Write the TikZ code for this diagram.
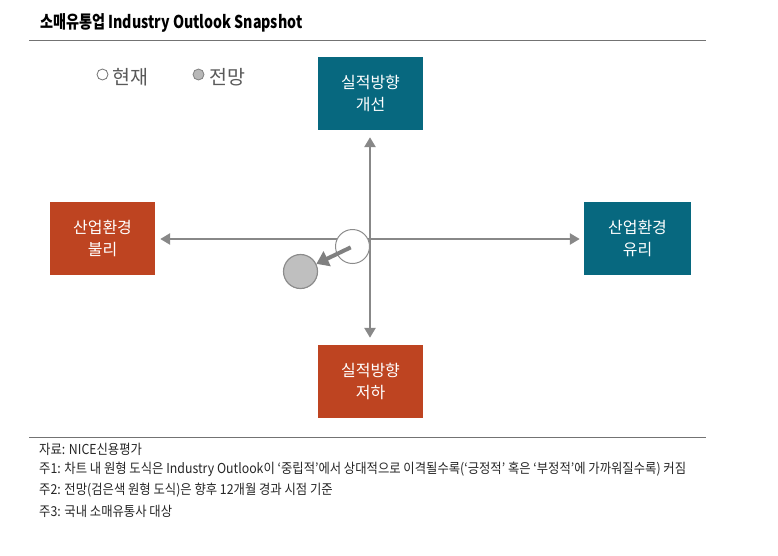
\documentclass[tikz,border=0pt]{standalone}
\usepackage{fontspec}
\setmainfont{Noto Sans CJK KR}
\newfontfamily\condfont[FakeStretch=0.8]{Noto Sans CJK KR}
\newfontfamily\notefont[FakeStretch=0.9]{Noto Sans CJK KR}
\usetikzlibrary{arrows.meta}
\definecolor{teal1}{HTML}{07687F}
\definecolor{rust1}{HTML}{BE4421}
\definecolor{axisgray}{HTML}{888888}
\tikzset{
  quad/.style={minimum width=105pt, minimum height=73pt, inner sep=0pt, text=white, font=\fontsize{16}{22}\selectfont, align=center},
  axisarrow/.style={draw=axisgray, line width=2.5pt, -{Triangle[length=10pt,width=11pt]}},
  legtext/.style={anchor=west, text=black!65, font=\fontsize{19.5}{21}\selectfont, inner sep=0pt},
  notetext/.style={anchor=west, inner sep=0pt, text=black!85, font=\notefont\fontsize{13.7}{15}\selectfont},
  rulestyle/.style={draw=black!55, line width=1pt}
}
\begin{document}
\begin{tikzpicture}[x=1pt,y=-1pt]
\useasboundingbox (0,0) rectangle (778,555);
% title
\node[anchor=west, inner sep=0pt, font=\condfont\bfseries\fontsize{17.7}{19}\selectfont] (title) at (40,23) {소매유통업 Industry Outlook Snapshot};
\coordinate (tr1) at (29,40); \coordinate (tr2) at (706,40);
\draw[rulestyle] (tr1) -- (tr2);
% legend
\node[circle, draw=black!55, fill=white, line width=0.8pt, minimum size=11pt, inner sep=0pt] (legcur) at (102.5,74.5) {};
\node[legtext] (legcurt) at (112,77) {현재};
\node[circle, draw=black!50, fill=black!28, line width=0.8pt, minimum size=11pt, inner sep=0pt] (legfut) at (198.5,74.5) {};
\node[legtext] (legfutt) at (209,77) {전망};
% boxes
\node[quad, fill=teal1] (top) at (370.5,93.5) {실적방향\\개선};
\node[quad, fill=rust1] (left) at (102.5,238.5) {산업환경\\불리};
\node[quad, fill=teal1, minimum width=107pt] (right) at (637.5,238.5) {산업환경\\유리};
\node[quad, fill=rust1] (bottom) at (370.5,381.5) {실적방향\\저하};
% axes
\coordinate (o) at (370,239);
\draw[axisarrow, shorten >=5pt] (o) -- (left.east |- o);
\draw[axisarrow, shorten >=4pt] (o) -- (right.west |- o);
\draw[axisarrow, shorten >=7pt] (o) -- (top.south -| o);
\draw[axisarrow, shorten >=7pt] (o) -- (bottom.north -| o);
% circles
\node[circle, draw=black!45, fill=white, line width=1pt, minimum size=34pt, inner sep=0pt] (cur) at (352.5,246.5) {};
\node[circle, draw=black!45, fill=black!25, line width=1.2pt, minimum size=34pt, inner sep=0pt] (fut) at (300.5,271.5) {};
\draw[draw=black!50, line width=4pt, shorten <=2pt, -{Triangle[length=12pt,width=16pt]}] (cur.center) -- (fut);
% notes
\coordinate (br1) at (29,437); \coordinate (br2) at (706,437);
\draw[rulestyle] (br1) -- (br2);
\node[notetext] (n0) at (39,449) {자료: NICE신용평가};
\node[notetext] (n1) at (39,469) {주1: 차트 내 원형 도식은 Industry Outlook이 ‘중립적’에서 상대적으로 이격될수록(‘긍정적’ 혹은 ‘부정적’에 가까워질수록) 커짐};
\node[notetext] (n2) at (39,490) {주2: 전망(검은색 원형 도식)은 향후 12개월 경과 시점 기준};
\node[notetext] (n3) at (39,511) {주3: 국내 소매유통사 대상};
\end{tikzpicture}
\end{document}
